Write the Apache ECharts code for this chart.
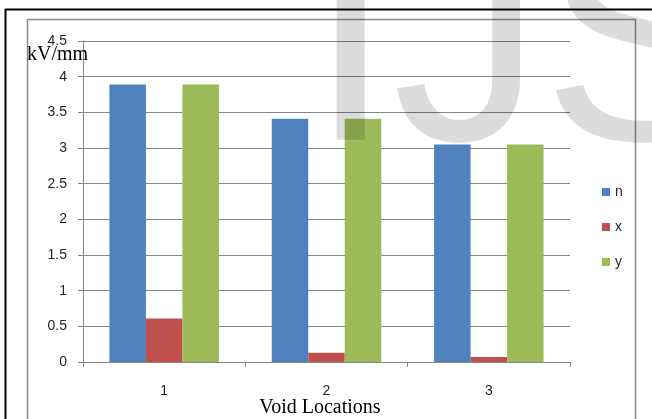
<!DOCTYPE html>
<html>
<head>
<meta charset="utf-8">
<script src="https://cdn.jsdelivr.net/npm/echarts@6/dist/echarts.min.js"></script>
<style>
  html, body { margin: 0; padding: 0; background: #fff; }
  #chart { width: 652px; height: 419px; }
</style>
</head>
<body>
<div id="chart"></div>
<script>
// Breakdown field strength per void location
const categories = ['1', '2', '3'];
const seriesNames = ['n', 'x', 'y'];
const valuesN = [3.89, 3.41, 3.05];
const valuesX = [0.61, 0.13, 0.07];
const valuesY = [3.89, 3.41, 3.05];
const colors = ['#4f81bd', '#c0504d', '#9bbb59'];

const yTitle = 'kV/mm';
const xTitle = 'Void Locations';

const chart = echarts.init(document.getElementById('chart'), null, { renderer: 'canvas' });

const labelFont = '"Liberation Sans", Arial, sans-serif';
const serifFont = '"Liberation Serif", "DejaVu Serif", serif';

function barSeries(name, data, color) {
  return {
    name: name,
    type: 'bar',
    data: data,
    barWidth: 36.5,
    barGap: '0%',
    itemStyle: { color: color },
    z: 2
  };
}

chart.setOption({
  animation: false,
  color: colors,
  grid: { left: 83, right: 82, top: 41, bottom: 57, containLabel: false },
  xAxis: {
    type: 'category',
    data: categories,
    axisLine: { lineStyle: { color: '#868686', width: 1 } },
    axisTick: { show: true, length: 5, lineStyle: { color: '#868686' } },
    axisLabel: { color: '#262626', fontSize: 14, fontFamily: labelFont, margin: 22 },
    splitLine: { show: false }
  },
  yAxis: {
    type: 'value',
    min: 0,
    max: 4.5,
    interval: 0.5,
    axisLine: { show: true, lineStyle: { color: '#868686', width: 1 } },
    axisTick: { show: true, length: 5, lineStyle: { color: '#868686' } },
    axisLabel: { color: '#262626', fontSize: 14, fontFamily: labelFont, margin: 16 },
    splitLine: { show: true, lineStyle: { color: '#868686', width: 1 } }
  },
  legend: {
    orient: 'vertical',
    left: 597,
    top: 180,
    itemWidth: 8,
    itemHeight: 8,
    itemGap: 21,
    icon: 'rect',
    data: seriesNames,
    textStyle: { color: '#262626', fontSize: 14, fontFamily: labelFont, lineHeight: 14 }
  },
  series: [
    barSeries(seriesNames[0], valuesN, colors[0]),
    barSeries(seriesNames[1], valuesX, colors[1]),
    barSeries(seriesNames[2], valuesY, colors[2])
  ],
  graphic: [
    // outer page frame (top and left rules)
    { type: 'line', shape: { x1: 5, y1: 9.5, x2: 652, y2: 9.5 }, style: { stroke: '#000', lineWidth: 2 }, z: 50 },
    { type: 'line', shape: { x1: 5.5, y1: 9, x2: 5.5, y2: 419 }, style: { stroke: '#000', lineWidth: 2 }, z: 50 },
    // chart area border
    { type: 'rect', shape: { x: 27.5, y: 19.5, width: 608, height: 420 }, style: { fill: null, stroke: '#8a8a8a', lineWidth: 1.5 }, z: 50 },
    // axis titles
    { type: 'text', left: 27, top: 45, style: { text: yTitle, font: '20px ' + serifFont, fill: '#000' }, z: 60 },
    { type: 'text', x: 320, y: 408, style: { text: xTitle, font: '20px ' + serifFont, fill: '#000', align: 'center', verticalAlign: 'middle' }, z: 60 },
    // background stamp lettering
    { type: 'text', x: 309, y: 207, style: { text: 'IJS', font: '300px "Liberation Sans", Arial, sans-serif', fill: 'rgba(0,0,0,0.137)', verticalAlign: 'bottom' }, z: 100, silent: true }
  ]
});
</script>
</body>
</html>
